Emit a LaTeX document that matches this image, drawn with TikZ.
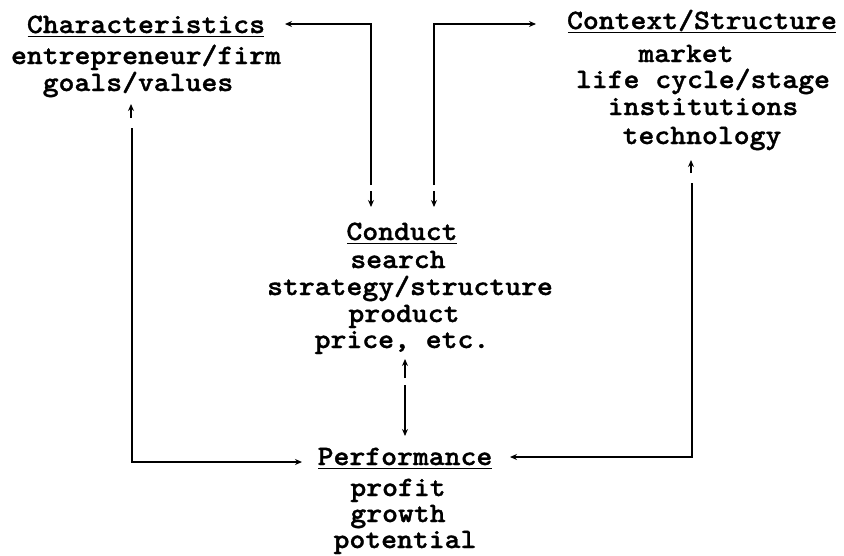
\documentclass[tikz,border=0pt]{standalone}
\usepackage{fontspec}
\newfontfamily\tw{lmmonolt10-bold}[Extension=.otf, FakeStretch=1.08, FakeBold=1.2]
\usetikzlibrary{arrows.meta}
\begin{document}
\begin{tikzpicture}[x=1pt,y=-1pt,
  txt/.style={inner sep=0pt, anchor=base, font=\tw\fontsize{28}{30}\selectfont},
  conn/.style={line width=1.7pt},
  arr/.style={conn, -{Stealth[length=7pt,width=6pt]}},
  ul/.style={line width=1.5pt}]
\useasboundingbox (0,0) rectangle (844,555);
% Characteristics block
\node[txt] (ch) at (146,33) {Characteristics};
\node[txt] (ch1) at (146,64) {entrepreneur/firm};
\node[txt] (ch2) at (138,91) {goals/values};
% Context block
\node[txt] (cs) at (702,29) {Context/Structure};
\node[txt] (cs1) at (686,62) {market};
\node[txt] (cs2) at (703,88) {life cycle/stage};
\node[txt] (cs3) at (703,115) {institutions};
\node[txt] (cs4) at (702,144) {technology};
% Conduct block
\node[txt] (co) at (402,240) {Conduct};
\node[txt] (co1) at (398,268) {search};
\node[txt] (co2) at (410,295) {strategy/structure};
\node[txt] (co3) at (404,322) {product};
\node[txt] (co4) at (402,348) {price, etc.};
% Performance block
\node[txt] (pe) at (405,465) {Performance};
\node[txt] (pe1) at (398,496) {profit};
\node[txt] (pe2) at (398,522) {growth};
\node[txt] (pe3) at (405,548) {potential};
% underlines
\foreach \n in {ch,cs,co,pe}
  \draw[ul] ([xshift=1pt,yshift=-3.5pt]\n.base west) -- ([xshift=-1pt,yshift=-3.5pt]\n.base east);
% connector coordinates
\coordinate (a1s) at (371,185); \coordinate (a1c) at (371,24); \coordinate (a1e) at (285,24);
\coordinate (a1t) at (371,191); \coordinate (a1h) at (371,207);
\coordinate (a2s) at (434,185); \coordinate (a2c) at (434,24); \coordinate (a2e) at (536,24);
\coordinate (a2t) at (434,191); \coordinate (a2h) at (434,207);
\coordinate (a3t) at (131,118); \coordinate (a3h) at (131,104);
\coordinate (a3s) at (132,128); \coordinate (a3c) at (132,462); \coordinate (a3e) at (302,462);
\coordinate (a4t) at (691,173); \coordinate (a4h) at (691,160);
\coordinate (a4s) at (692,183); \coordinate (a4c) at (692,457); \coordinate (a4e) at (510,457);
\coordinate (a5t) at (405,378); \coordinate (a5h) at (405,359);
\coordinate (a5s) at (405,385); \coordinate (a5e) at (405,436);
% connectors
\draw[arr] (a1s) -- (a1c) -- (a1e);
\draw[arr] (a1t) -- (a1h);
\draw[arr] (a2s) -- (a2c) -- (a2e);
\draw[arr] (a2t) -- (a2h);
\draw[arr] (a3t) -- (a3h);
\draw[arr] (a3s) -- (a3c) -- (a3e);
\draw[arr] (a4t) -- (a4h);
\draw[arr] (a4s) -- (a4c) -- (a4e);
\draw[arr] (a5t) -- (a5h);
\draw[arr] (a5s) -- (a5e);
\end{tikzpicture}
\end{document}
